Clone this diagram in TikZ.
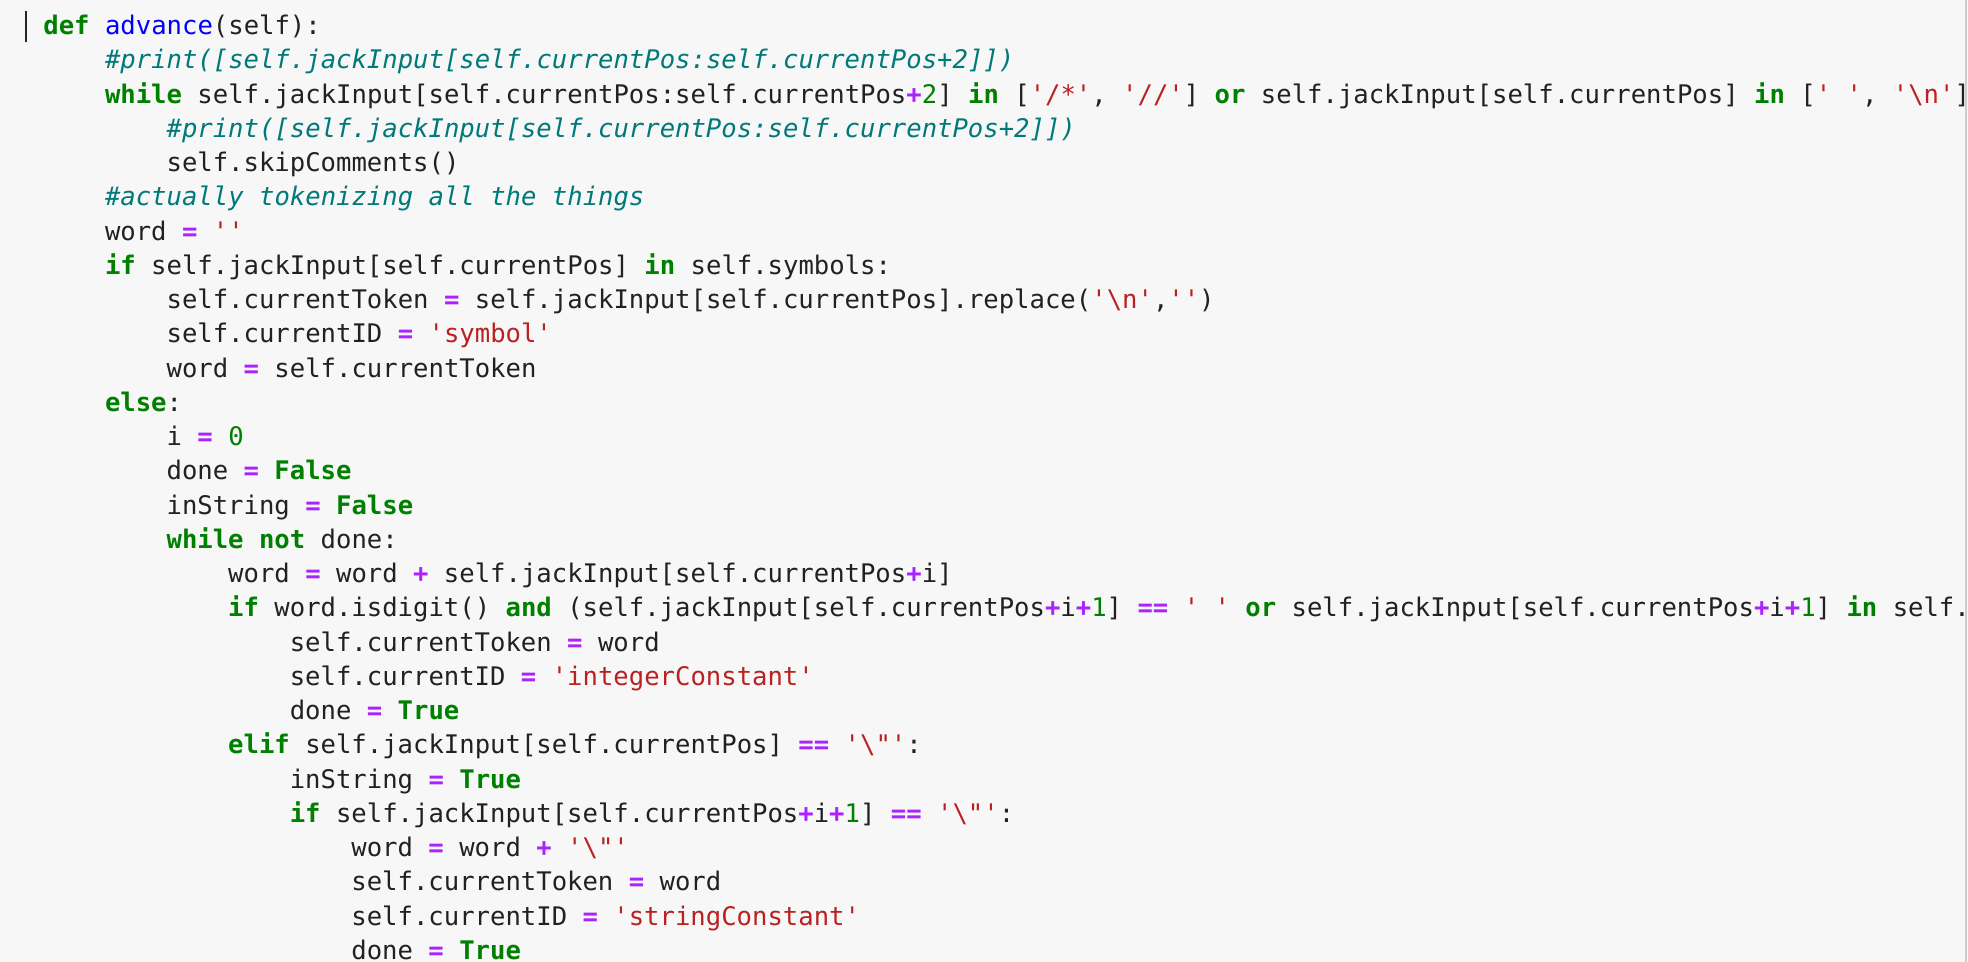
\documentclass[tikz,border=0pt]{standalone}
\usepackage{fontspec}
\newfontfamily\codefont[WordSpace={1,0,0}]{DejaVu Sans Mono}
\definecolor{bgc}{HTML}{F7F7F7}
\definecolor{kwc}{HTML}{008000}
\definecolor{cmc}{HTML}{007979}
\definecolor{stc}{HTML}{BA2121}
\definecolor{opc}{HTML}{AA22FF}
\definecolor{fnc}{HTML}{0000FF}
\definecolor{txc}{HTML}{212121}
\newcommand\kwd[1]{\textcolor{kwc}{\bfseries #1}}
\newcommand\cmt[1]{\textcolor{cmc}{\itshape #1}}
\newcommand\str[1]{\textcolor{stc}{#1}}
\newcommand\opr[1]{\textcolor{opc}{\bfseries #1}}
\newcommand\nmb[1]{\textcolor{kwc}{#1}}
\newcommand\fnc[1]{\textcolor{fnc}{#1}}
\newcommand\bs{\textbackslash}
\tikzset{codeline/.style={anchor=base west,inner sep=0pt,font=\codefont\fontsize{12.8}{15}\selectfont,text=txc}}
\newcommand\cl[3]{\node[codeline] (l#1) at ({21.5pt+#2*30.8pt},{-17.3pt-#1*17.125pt}) {#3};}
\begin{document}
\begin{tikzpicture}[x=1pt,y=1pt]
\fill[bgc] (0,0) rectangle (984,-481);
\useasboundingbox (0,0) rectangle (984,-481);
\draw[black!85,line width=0.8pt] (13,-5.5) -- (13,-21);
\draw[black!20,line width=1pt] (983,0) -- (983,-481);
\begin{scope}
\clip (0,0) rectangle (982,-481);
\cl{0}{0}{\kwd{def} \fnc{advance}(self):}
\cl{1}{1}{\cmt{\#print([self.jackInput[self.currentPos:self.currentPos+2]])}}
\cl{2}{1}{\kwd{while} self.jackInput[self.currentPos:self.currentPos\opr{+}\nmb{2}] \kwd{in} [\str{'/*'}, \str{'//'}] \kwd{or} self.jackInput[self.currentPos] \kwd{in} [\str{' '}, \str{'\bs n'}]:}
\cl{3}{2}{\cmt{\#print([self.jackInput[self.currentPos:self.currentPos+2]])}}
\cl{4}{2}{self.skipComments()}
\cl{5}{1}{\cmt{\#actually tokenizing all the things}}
\cl{6}{1}{word \opr{=} \str{''}}
\cl{7}{1}{\kwd{if} self.jackInput[self.currentPos] \kwd{in} self.symbols:}
\cl{8}{2}{self.currentToken \opr{=} self.jackInput[self.currentPos].replace(\str{'\bs n'},\str{''})}
\cl{9}{2}{self.currentID \opr{=} \str{'symbol'}}
\cl{10}{2}{word \opr{=} self.currentToken}
\cl{11}{1}{\kwd{else}:}
\cl{12}{2}{i \opr{=} \nmb{0}}
\cl{13}{2}{done \opr{=} \kwd{False}}
\cl{14}{2}{inString \opr{=} \kwd{False}}
\cl{15}{2}{\kwd{while} \kwd{not} done:}
\cl{16}{3}{word \opr{=} word \opr{+} self.jackInput[self.currentPos\opr{+}i]}
\cl{17}{3}{\kwd{if} word.isdigit() \kwd{and} (self.jackInput[self.currentPos\opr{+}i\opr{+}\nmb{1}] \opr{==} \str{' '} \kwd{or} self.jackInput[self.currentPos\opr{+}i\opr{+}\nmb{1}] \kwd{in} self.symbols):}
\cl{18}{4}{self.currentToken \opr{=} word}
\cl{19}{4}{self.currentID \opr{=} \str{'integerConstant'}}
\cl{20}{4}{done \opr{=} \kwd{True}}
\cl{21}{3}{\kwd{elif} self.jackInput[self.currentPos] \opr{==} \str{'\bs"'}:}
\cl{22}{4}{inString \opr{=} \kwd{True}}
\cl{23}{4}{\kwd{if} self.jackInput[self.currentPos\opr{+}i\opr{+}\nmb{1}] \opr{==} \str{'\bs"'}:}
\cl{24}{5}{word \opr{=} word \opr{+} \str{'\bs"'}}
\cl{25}{5}{self.currentToken \opr{=} word}
\cl{26}{5}{self.currentID \opr{=} \str{'stringConstant'}}
\cl{27}{5}{done \opr{=} \kwd{True}}
\end{scope}
\end{tikzpicture}
\end{document}
